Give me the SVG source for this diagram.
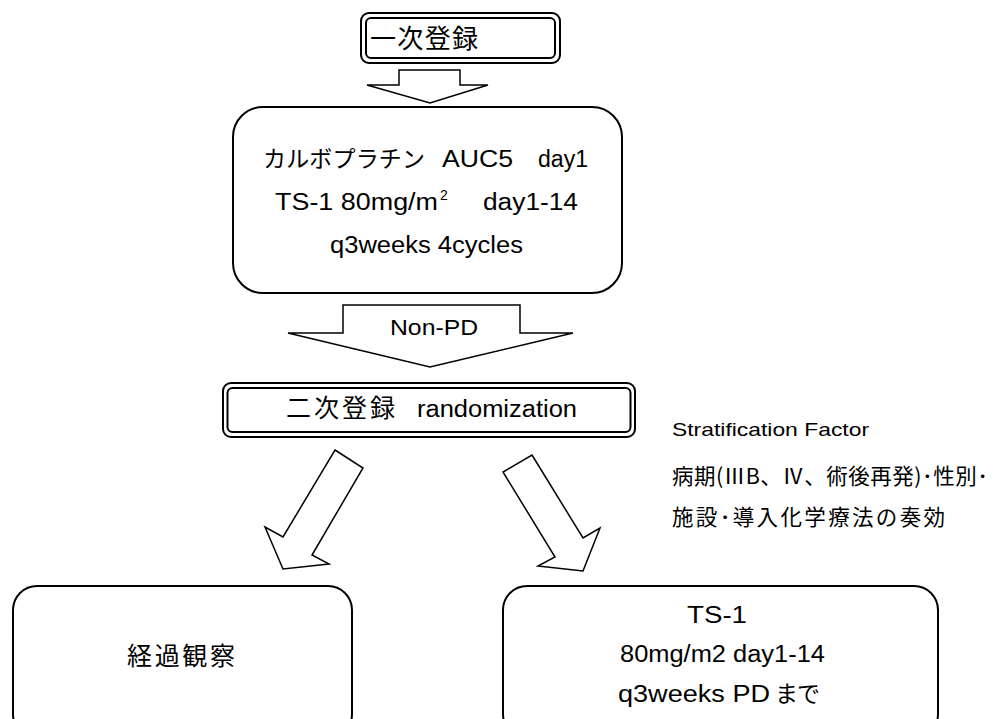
<svg xmlns="http://www.w3.org/2000/svg" width="995" height="719" viewBox="0 0 995 719">
<style>
.t{font-family:"Liberation Sans","Noto Sans CJK JP",sans-serif;font-size:23px;fill:#000}
.j{font-family:"Noto Sans CJK JP","Liberation Sans",sans-serif;font-size:24px;fill:#000}
.box{fill:#fff;stroke:#000;stroke-width:2}
.dbl{fill:none;stroke:#000;stroke-width:2}
.arr{fill:#fff;stroke:#000;stroke-width:1.5;stroke-linejoin:miter}
</style>
<rect width="995" height="719" fill="#fff"/>
<g id="connectors">
<polygon class="arr" points="399,70 460,70 460,85 488,85 430,103 367,85 399,85"/>
<polygon class="arr" points="343,305 520,305 520,333 573,333 430,367 288,333 343,333"/>
<text class="t" x="390" y="335" style="font-size:22px" textLength="88" lengthAdjust="spacingAndGlyphs">Non-PD</text>
<polygon class="arr" points="335,450 363,468 312,555 329,564 283,569 265,527 283,537"/>
<polygon class="arr" points="532,455 583,538 600,528 583,571 538,566 555,557 503,472"/>
</g>
<g id="node-first">
<rect class="dbl" x="361" y="13" width="199" height="50" rx="8"/>
<rect class="dbl" x="366" y="18" width="189" height="40" rx="5"/>
<text class="j" x="370" y="48" style="font-size:26px" textLength="108" lengthAdjust="spacing">一次登録</text>
</g>
<g id="node-induction">
<rect class="box" x="233" y="107" width="389" height="186" rx="30"/>
<text class="j" x="263" y="167" style="font-size:23px" textLength="162" lengthAdjust="spacing">カルボプラチン</text>
<text class="t" x="442" y="167" textLength="71" lengthAdjust="spacingAndGlyphs">AUC5</text>
<text class="t" x="538" y="167" textLength="50" lengthAdjust="spacingAndGlyphs">day1</text>
<text class="t" x="275" y="210" textLength="163" lengthAdjust="spacingAndGlyphs">TS-1 80mg/m</text>
<text class="t" x="440" y="200" style="font-size:14px">2</text>
<text class="t" x="483" y="210" textLength="95" lengthAdjust="spacingAndGlyphs">day1-14</text>
<text class="t" x="330" y="253" textLength="193" lengthAdjust="spacingAndGlyphs">q3weeks 4cycles</text>
</g>
<g id="node-second">
<rect class="dbl" x="223" y="383" width="412" height="54" rx="8"/>
<rect class="dbl" x="227.5" y="388" width="403" height="44" rx="5"/>
<text class="j" x="286" y="417" style="font-size:25px" textLength="109" lengthAdjust="spacing">二次登録</text>
<text class="t" x="417" y="417" textLength="160" lengthAdjust="spacingAndGlyphs">randomization</text>
</g>
<g id="strat-note">
<text class="t" x="672" y="436" style="font-size:19px" textLength="197" lengthAdjust="spacingAndGlyphs">Stratification Factor</text>
<text class="j" x="672" y="484" style="font-size:21.5px" textLength="316" lengthAdjust="spacing">病期(ⅢB、Ⅳ、術後再発)･性別･</text>
<text class="j" x="672" y="525" style="font-size:21.5px" textLength="273" lengthAdjust="spacing">施設･導入化学療法の奏効</text>
</g>
<g id="node-observe">
<rect class="box" x="13" y="586" width="339" height="152" rx="24"/>
<text class="j" x="127" y="665" style="font-size:25px" textLength="108" lengthAdjust="spacing">経過観察</text>
</g>
<g id="node-ts1">
<rect class="box" x="503" y="586" width="435" height="152" rx="24"/>
<text class="t" x="687" y="623" textLength="60" lengthAdjust="spacingAndGlyphs">TS-1</text>
<text class="t" x="620" y="662" textLength="205" lengthAdjust="spacingAndGlyphs">80mg/m2 day1-14</text>
<text class="t" x="618" y="702" textLength="152" lengthAdjust="spacingAndGlyphs">q3weeks PD</text>
<text class="j" x="775" y="702" style="font-size:23px" textLength="45" lengthAdjust="spacing">まで</text>
</g>
</svg>
